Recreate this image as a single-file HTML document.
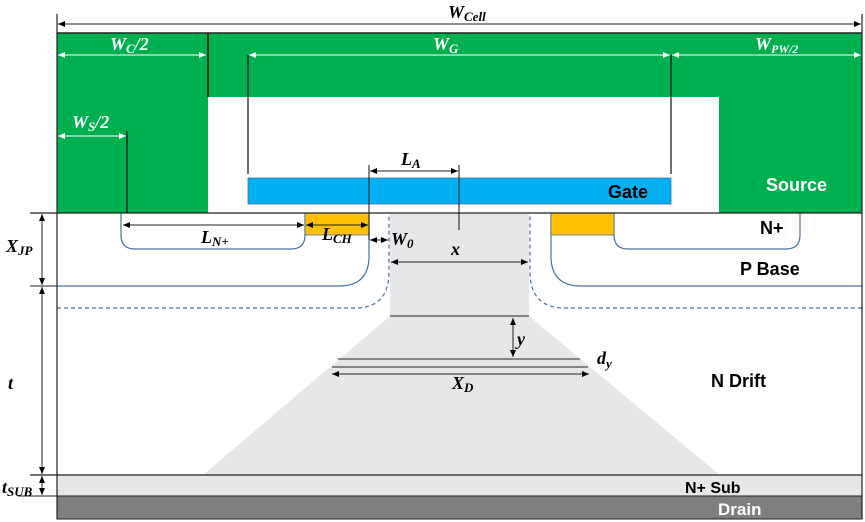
<!DOCTYPE html>
<html><head><meta charset="utf-8"><style>
html,body{margin:0;padding:0;background:#fff;width:865px;height:522px;overflow:hidden}
svg{display:block}
text{font-family:"Liberation Sans",sans-serif;font-weight:bold}
.m{font-family:"Liberation Serif",serif;font-style:italic;font-weight:bold}
</style></head><body>
<svg width="865" height="522" viewBox="0 0 865 522" xmlns="http://www.w3.org/2000/svg">
<defs>
<marker id="ab" markerWidth="8" markerHeight="8" refX="7" refY="4" orient="auto-start-reverse" markerUnits="userSpaceOnUse"><path d="M0,1 L7,4 L0,7z" fill="#000"/></marker>
<marker id="aw" markerWidth="8" markerHeight="8" refX="7" refY="4" orient="auto-start-reverse" markerUnits="userSpaceOnUse"><path d="M0,1 L7,4 L0,7z" fill="#fff"/></marker>
</defs>
<rect x="390" y="213" width="139" height="103" fill="#e7e7ea"/>
<polygon points="390,316 529,316 720,475 203,475" fill="#e7e7ea"/>
<rect x="57" y="475" width="805" height="21" fill="#e7e7ea"/>
<rect x="57" y="496" width="805" height="23" fill="#7f7f7f" stroke="#222" stroke-width="1"/>
<path d="M57,33 H862 V213 H719 V97 H208 V213 H57 Z" fill="#00b050"/>
<line x1="57" y1="33" x2="862" y2="33" stroke="#222" stroke-width="1.5"/>
<line x1="208" y1="33" x2="208" y2="97" stroke="#111" stroke-width="1.5"/>
<rect x="248" y="178" width="423" height="26" fill="#00b0f0" stroke="#4a6fa5" stroke-width="0.8"/>
<path d="M57,286 H339 Q369,286 369,256 V213" fill="none" stroke="#4a6fa5" stroke-width="1.2"/>
<path d="M121,213 V235 Q121,249 135,249 H291 Q305,249 305,235 V213" fill="none" stroke="#4a6fa5" stroke-width="1.2"/>
<rect x="305" y="213" width="64" height="22" fill="#ffc000" stroke="#4a6fa5" stroke-width="0.8"/>
<path d="M862,286 H581 Q551,286 551,256 V213" fill="none" stroke="#4a6fa5" stroke-width="1.2"/>
<path d="M614,213 V235 Q614,249 628,249 H786 Q800,249 800,235 V213" fill="none" stroke="#4a6fa5" stroke-width="1.2"/>
<rect x="551" y="213" width="63" height="22" fill="#ffc000" stroke="#4a6fa5" stroke-width="0.8"/>
<path d="M57,308 H355 Q389,308 389,272 V213" fill="none" stroke="#4a6fa5" stroke-width="1.2" stroke-dasharray="4,3"/>
<path d="M862,308 H565 Q530,308 530,272 V213" fill="none" stroke="#4a6fa5" stroke-width="1.2" stroke-dasharray="4,3"/>
<line x1="30" y1="213" x2="862" y2="213" stroke="#222" stroke-width="1.2"/>
<line x1="30" y1="286" x2="57" y2="286" stroke="#222" stroke-width="1"/>
<line x1="30" y1="475" x2="862" y2="475" stroke="#222" stroke-width="1.2"/>
<line x1="18" y1="496" x2="57" y2="496" stroke="#222" stroke-width="1"/>
<line x1="57" y1="14" x2="57" y2="519" stroke="#222" stroke-width="1.2"/>
<line x1="862" y1="14" x2="862" y2="519" stroke="#222" stroke-width="1.2"/>
<line x1="390" y1="316" x2="529" y2="316" stroke="#666" stroke-width="1.5"/>
<line x1="338" y1="359" x2="580" y2="359" stroke="#666" stroke-width="1.5"/>
<line x1="332" y1="367" x2="588" y2="367" stroke="#666" stroke-width="1.5"/>
<line x1="58" y1="24" x2="861" y2="24" stroke="#222" marker-start="url(#ab)" marker-end="url(#ab)"/>
<line x1="58" y1="55" x2="206" y2="55" stroke="#fff" marker-start="url(#aw)" marker-end="url(#aw)"/>
<line x1="249" y1="55" x2="670" y2="55" stroke="#fff" marker-start="url(#aw)" marker-end="url(#aw)"/>
<line x1="672" y1="55" x2="861" y2="55" stroke="#fff" marker-start="url(#aw)" marker-end="url(#aw)"/>
<line x1="248" y1="55" x2="248" y2="174" stroke="#111" stroke-width="1.2"/>
<line x1="671" y1="55" x2="671" y2="174" stroke="#111" stroke-width="1.2"/>
<line x1="58" y1="136" x2="126" y2="136" stroke="#fff" marker-start="url(#aw)" marker-end="url(#aw)"/>
<line x1="127" y1="131" x2="127" y2="213" stroke="#111" stroke-width="1.2"/>
<line x1="369" y1="165" x2="369" y2="240" stroke="#111" stroke-width="1"/>
<line x1="459" y1="165" x2="459" y2="230" stroke="#111" stroke-width="1"/>
<line x1="370" y1="171" x2="458" y2="171" stroke="#222" marker-start="url(#ab)" marker-end="url(#ab)"/>
<line x1="123" y1="225" x2="304" y2="225" stroke="#222" marker-start="url(#ab)" marker-end="url(#ab)"/>
<line x1="306" y1="225" x2="368" y2="225" stroke="#222" marker-start="url(#ab)" marker-end="url(#ab)"/>
<line x1="370" y1="240" x2="388" y2="240" stroke="#222" marker-start="url(#ab)" marker-end="url(#ab)"/>
<line x1="391" y1="262" x2="528" y2="262" stroke="#222" marker-start="url(#ab)" marker-end="url(#ab)"/>
<line x1="42" y1="214" x2="42" y2="285" stroke="#222" marker-start="url(#ab)" marker-end="url(#ab)"/>
<line x1="42" y1="287" x2="42" y2="474" stroke="#222" marker-start="url(#ab)" marker-end="url(#ab)"/>
<line x1="42" y1="476" x2="42" y2="495" stroke="#222" marker-start="url(#ab)" marker-end="url(#ab)"/>
<line x1="513" y1="318" x2="513" y2="357" stroke="#222" marker-start="url(#ab)" marker-end="url(#ab)"/>
<line x1="332" y1="374" x2="589" y2="374" stroke="#222" marker-start="url(#ab)" marker-end="url(#ab)"/>
<text class="m" x="448" y="18" font-size="18">W<tspan font-size="13" dy="3">Cell</tspan></text>
<text class="m" x="110" y="50" font-size="18" fill="#fff">W<tspan font-size="13" dy="3">C</tspan><tspan dy="-3">/2</tspan></text>
<text class="m" x="433" y="50" font-size="18" fill="#fff">W<tspan font-size="13" dy="3">G</tspan></text>
<text class="m" x="755" y="50" font-size="18" fill="#fff">W<tspan font-size="12" dy="3">PW/2</tspan></text>
<text class="m" x="72" y="128" font-size="18" fill="#fff">W<tspan font-size="13" dy="3">S</tspan><tspan dy="-3">/2</tspan></text>
<text class="m" x="401" y="165" font-size="18">L<tspan font-size="13" dy="3">A</tspan></text>
<text x="608" y="198" font-size="18">Gate</text>
<text x="766" y="191" font-size="18" fill="#fff">Source</text>
<text class="m" x="201" y="243" font-size="18">L<tspan font-size="13" dy="3">N+</tspan></text>
<text class="m" x="322" y="240" font-size="18">L<tspan font-size="13" dy="3">CH</tspan></text>
<text class="m" x="391" y="245" font-size="18">W<tspan font-size="13" dy="3">0</tspan></text>
<text class="m" x="451" y="255" font-size="18">x</text>
<text x="760" y="234" font-size="18">N+</text>
<text x="740" y="275" font-size="18">P Base</text>
<text class="m" x="6" y="252" font-size="18">X<tspan font-size="13" dy="3">JP</tspan></text>
<text class="m" x="8" y="389" font-size="18">t</text>
<text class="m" x="2" y="493" font-size="18">t<tspan font-size="13" dy="3">SUB</tspan></text>
<text class="m" x="517" y="345" font-size="18">y</text>
<text class="m" x="597" y="364" font-size="18">d<tspan font-size="13" dy="4">y</tspan></text>
<text class="m" x="452" y="389" font-size="18">X<tspan font-size="13" dy="3">D</tspan></text>
<text x="711" y="387" font-size="18">N Drift</text>
<text x="685" y="493" font-size="16">N+ Sub</text>
<text x="718" y="515" font-size="17" fill="#fff">Drain</text>
</svg>
</body></html>
